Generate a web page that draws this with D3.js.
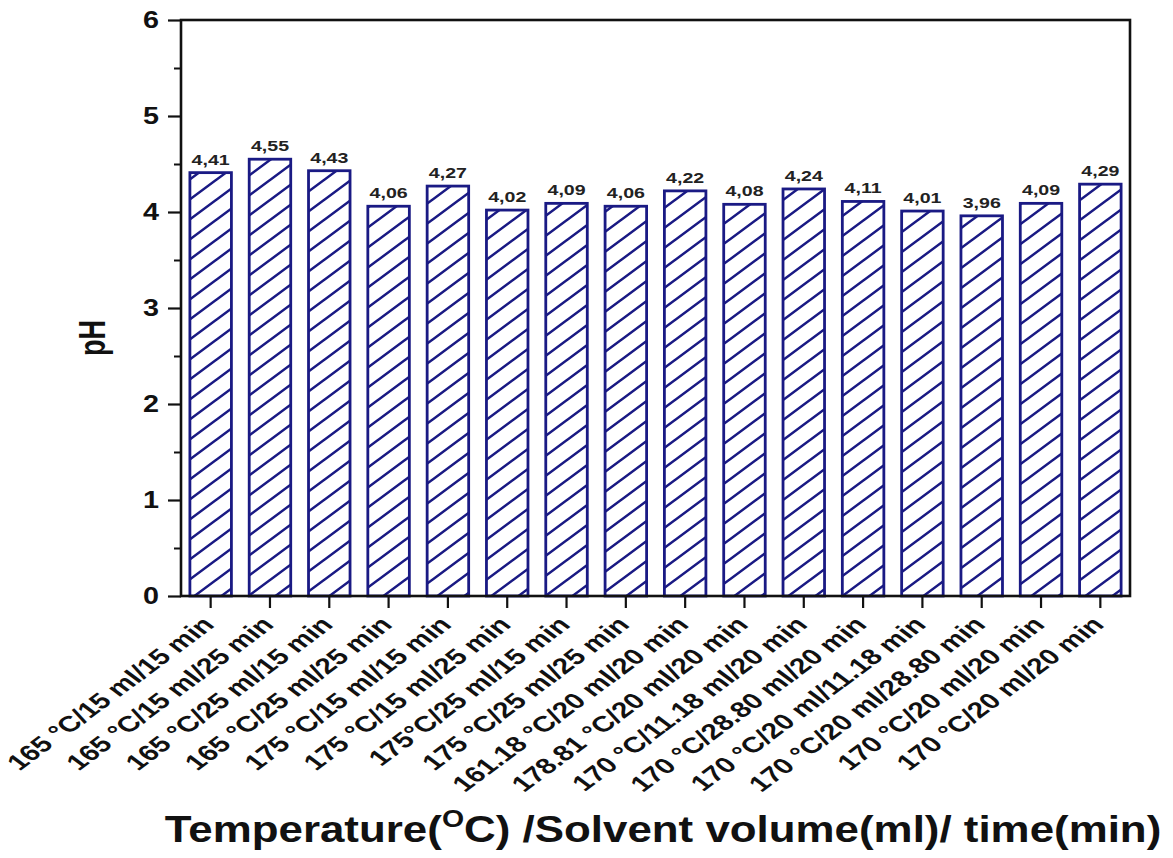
<!DOCTYPE html>
<html>
<head>
<meta charset="utf-8">
<script src="https://cdn.jsdelivr.net/npm/d3@7"></script>
<style>
  html, body { margin: 0; padding: 0; background: #fff; }
  svg { display: block; font-family: 'Liberation Sans', Arial, sans-serif; }
</style>
</head>
<body>
<div id="chart"></div>
<script>
// ━━━━━━━━━━━━━━━━━━━━━━━━━━━━━━━━━━━━━━━━━━━━━━━━━━━━━━━━━━━━━━━━━━━━━━━━━━━━━━
// Data /////////////////////////////////////////////////////////////////////////
// ━━━━━━━━━━━━━━━━━━━━━━━━━━━━━━━━━━━━━━━━━━━━━━━━━━━━━━━━━━━━━━━━━━━━━━━━━━━━━━
const conditions = [
  '165 °C/15 ml/15 min', '165 °C/15 ml/25 min', '165 °C/25 ml/15 min', '165 °C/25 ml/25 min',
  '175 °C/15 ml/15 min', '175 °C/15 ml/25 min', '175°C/25 ml/15 min', '175 °C/25 ml/25 min',
  '161.18 °C/20 ml/20 min', '178.81 °C/20 ml/20 min', '170 °C/11.18 ml/20 min', '170 °C/28.80 ml/20 min',
  '170 °C/20 ml/11.18 min', '170 °C/20 ml/28.80 min', '170 °C/20 ml/20 min', '170 °C/20 ml/20 min'
];
const ph_values = [4.41, 4.55, 4.43, 4.06, 4.27, 4.02, 4.09, 4.06, 4.22, 4.08, 4.24, 4.11, 4.01, 3.96, 4.09, 4.29];
const y_ticks = [0, 1, 2, 3, 4, 5, 6];
const y_minor_ticks = [0.5, 1.5, 2.5, 3.5, 4.5, 5.5];

const width = 1173, height = 858;
const sx = 1.35;                       // the picture is stretched horizontally
const navy = '#1a1a84';

// ━━━━━━━━━━━━━━━━━━━━━━━━━━━━━━━━━━━━━━━━━━━━━━━━━━━━━━━━━━━━━━━━━━━━━━━━━━━━━━
// SVG setup ////////////////////////////////////////////////////////////////////
// ━━━━━━━━━━━━━━━━━━━━━━━━━━━━━━━━━━━━━━━━━━━━━━━━━━━━━━━━━━━━━━━━━━━━━━━━━━━━━━
const svg = d3.select('#chart').append('svg')
  .attr('viewBox', [0, 0, width, height])
  .attr('width', width)
  .attr('height', height);

const defs = svg.append('defs');
defs.append('pattern')
  .attr('id', 'hatch')
  .attr('patternUnits', 'userSpaceOnUse')
  .attr('width', 27)
  .attr('height', 20)
  .append('path')
  .attr('d', 'M-1,20.74 L28,-0.74 M-8,5.93 L8,-5.93 M19,25.93 L35,14.07')
  .attr('stroke', navy)
  .attr('stroke-width', 2.5)
  .attr('fill', 'none');

const m = { left: 181, right: 1130, top: 20, bottom: 596 };

const x = d3.scaleBand()
  .domain(d3.range(conditions.length))
  .range([m.left, m.right])
  .paddingInner(0.3)
  .paddingOuter(0.15);

const y = d3.scaleLinear().domain([0, 6]).range([m.bottom, m.top]);

// Bars ///////////////////////////////////////////////////////////////////////
const bars = svg.append('g').attr('id', 'bars');

bars.selectAll('rect')
  .data(ph_values)
  .join('rect')
  .attr('x', (d, i) => x(i))
  .attr('y', d => y(d))
  .attr('width', x.bandwidth())
  .attr('height', d => y(0) - y(d))
  .attr('fill', 'url(#hatch)')
  .attr('stroke', navy)
  .attr('stroke-width', 2.8);

bars.selectAll('text')
  .data(ph_values)
  .join('text')
  .attr('transform', (d, i) => `translate(${x(i) + x.bandwidth() / 2},${y(d) - 8}) scale(${sx},1)`)
  .attr('text-anchor', 'middle')
  .attr('font-size', 14.5)
  .attr('font-weight', 'bold')
  .attr('fill', '#222')
  .text(d => d.toFixed(2).replace('.', ','));

// Frame //////////////////////////////////////////////////////////////////////
svg.append('rect')
  .attr('x', m.left).attr('y', m.top)
  .attr('width', m.right - m.left).attr('height', m.bottom - m.top)
  .attr('fill', 'none')
  .attr('stroke', '#111')
  .attr('stroke-width', 2.6);

// Y axis /////////////////////////////////////////////////////////////////////
const yAxis = svg.append('g')
  .attr('transform', `translate(${m.left},0)`)
  .call(d3.axisLeft(y).tickValues(y_ticks).tickSize(13).tickFormat(''));
yAxis.select('.domain').remove();
yAxis.selectAll('line').attr('stroke', '#111').attr('stroke-width', 2.2);

const yMinor = svg.append('g')
  .attr('transform', `translate(${m.left},0)`)
  .call(d3.axisLeft(y).tickValues(y_minor_ticks).tickSize(7).tickFormat(''));
yMinor.select('.domain').remove();
yMinor.selectAll('line').attr('stroke', '#111').attr('stroke-width', 2);

svg.append('g').selectAll('text')
  .data(y_ticks)
  .join('text')
  .attr('transform', d => `translate(159,${y(d) + 8}) scale(1.25,1)`)
  .attr('text-anchor', 'end')
  .attr('font-size', 23)
  .attr('font-weight', 'bold')
  .attr('fill', '#111')
  .text(d => d);

svg.append('text')
  .attr('transform', `translate(105,${(m.top + m.bottom) / 2 + 30}) scale(${sx},1) rotate(-90)`)
  .attr('text-anchor', 'middle')
  .attr('font-size', 27)
  .attr('font-weight', 'bold')
  .attr('fill', '#111')
  .text('pH');

// X axis /////////////////////////////////////////////////////////////////////
const xAxis = svg.append('g')
  .attr('transform', `translate(0,${m.bottom})`)
  .call(d3.axisBottom(x).tickSize(12).tickFormat(''));
xAxis.select('.domain').remove();
xAxis.selectAll('line').attr('stroke', '#111').attr('stroke-width', 2.2);

svg.append('g').selectAll('text')
  .data(conditions)
  .join('text')
  .attr('transform', (d, i) => `translate(${x(i) + x.bandwidth() / 2 + 5},${m.bottom + 30}) scale(${sx},1) rotate(-45)`)
  .attr('text-anchor', 'end')
  .attr('font-size', 22)
  .attr('font-weight', 'bold')
  .attr('fill', '#111')
  .text(d => d);

// Title ///////////////////////////////////////////////////////////////////////
const title = svg.append('text')
  .attr('text-anchor', 'middle')
  .attr('font-size', 37)
  .attr('font-weight', 'bold')
  .attr('fill', '#111');
title.append('tspan').text('Temperature(');
title.append('tspan').attr('font-size', 24).attr('dy', -15).text('O');
title.append('tspan').attr('dy', 15).text('C) /Solvent volume(ml)/ time(min)');
const tlen = title.node().getComputedTextLength();
title.attr('transform', `translate(663,842) scale(${997 / tlen},1)`);
</script>
</body>
</html>
